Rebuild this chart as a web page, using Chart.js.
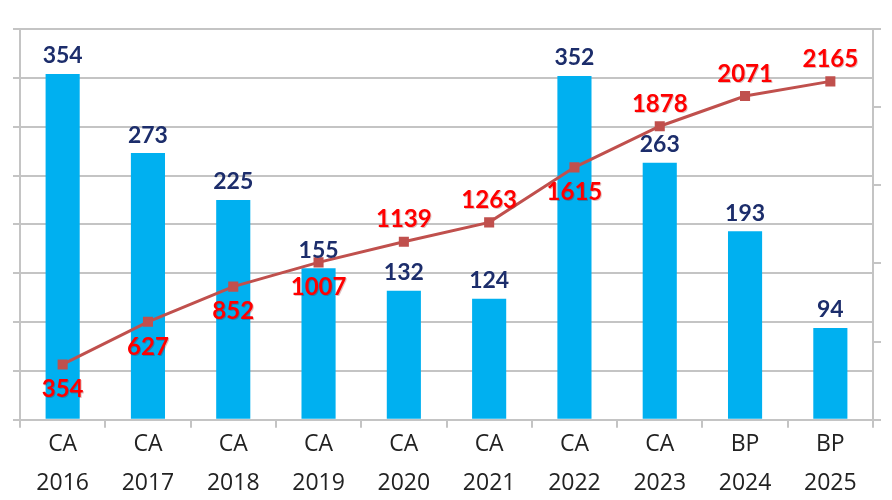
<!DOCTYPE html>
<html>
<head>
<meta charset="utf-8">
<script src="https://cdn.jsdelivr.net/npm/chart.js@4.4.1/dist/chart.umd.min.js"></script>
<style>
  html, body { margin: 0; padding: 0; background: #fff; }
  #wrap { width: 892px; height: 500px; position: relative; }
</style>
</head>
<body>
<div id="wrap"><canvas id="grafico"></canvas></div>
<script>
// datos
var categorias = [["CA", "2016"], ["CA", "2017"], ["CA", "2018"], ["CA", "2019"], ["CA", "2020"],
  ["CA", "2021"], ["CA", "2022"], ["CA", "2023"], ["BP", "2024"], ["BP", "2025"]];
var valoresAnuales = [354, 273, 225, 155, 132, 124, 352, 263, 193, 94];
var acumulado = [354, 627, 852, 1007, 1139, 1263, 1615, 1878, 2071, 2165];
// donde va la etiqueta roja: arriba o abajo del punto
var posEtiquetaLinea = ["abajo", "abajo", "abajo", "abajo", "arriba", "arriba", "abajo", "arriba", "arriba", "arriba"];

var gris = "#c4c4c4";

// plugin sencillo para escribir los valores
var etiquetas = {
  id: "etiquetas",
  afterDatasetsDraw: function (chart) {
    var ctx = chart.ctx;
    ctx.save();
    ctx.textAlign = "center";
    ctx.textBaseline = "middle";

    var barras = chart.getDatasetMeta(1).data;
    ctx.font = "bold 23px Lato";
    ctx.fillStyle = "#1c2d6b";
    barras.forEach(function (b, i) {
      ctx.fillText(valoresAnuales[i], b.x, b.y - 18);
    });

    var puntos = chart.getDatasetMeta(0).data;
    ctx.font = "bold 24px Lato";
    puntos.forEach(function (p, i) {
      var dy = posEtiquetaLinea[i] === "arriba" ? -22 : 25;
      ctx.fillStyle = "rgba(120,0,0,0.25)";
      ctx.fillText(acumulado[i], p.x + 1, p.y + dy + 1);
      ctx.fillStyle = "#ff0000";
      ctx.fillText(acumulado[i], p.x, p.y + dy);
    });
    ctx.restore();
  },
};

var ctx = document.getElementById("grafico").getContext("2d");
new Chart(ctx, {
  data: {
    labels: categorias,
    datasets: [
      {
        type: "line",
        label: "Acumulado",
        data: acumulado,
        yAxisID: "yDer",
        borderColor: "#c0504d",
        backgroundColor: "#c0504d",
        borderWidth: 3,
        pointStyle: "rect",
        pointRadius: 5,
        pointHoverRadius: 5,
        tension: 0,
        order: 0,
      },
      {
        type: "bar",
        label: "Anual",
        data: valoresAnuales,
        yAxisID: "yIzq",
        backgroundColor: "#00b0f0",
        barPercentage: 0.4,
        categoryPercentage: 1,
        order: 1,
      },
    ],
  },
  options: {
    responsive: true,
    maintainAspectRatio: false,
    animation: false,
    layout: { padding: { left: 13, right: 11, top: 29, bottom: 0 } },
    plugins: {
      legend: { display: false },
      tooltip: { enabled: false },
    },
    scales: {
      x: {
        offset: true,
        grid: {
          display: true,
          offset: true,
          drawOnChartArea: false,
          drawTicks: true,
          tickLength: 8,
          color: gris,
          lineWidth: 2,
        },
        border: { color: gris, width: 2 },
        ticks: {
          color: "#222",
          font: { family: "Open Sans", size: 23, lineHeight: 1.7 },
          padding: -3,
          maxRotation: 0,
          autoSkip: false,
        },
      },
      yIzq: {
        position: "left",
        min: 0,
        max: 400,
        ticks: { stepSize: 50, display: false },
        grid: { color: gris, lineWidth: 2, tickLength: 7 },
        border: { color: gris, width: 2 },
      },
      yDer: {
        position: "right",
        min: 0,
        max: 2500,
        ticks: { stepSize: 500, display: false },
        grid: { drawOnChartArea: false, color: gris, lineWidth: 2, tickLength: 8 },
        border: { color: gris, width: 2 },
      },
    },
  },
  plugins: [etiquetas],
});
</script>
</body>
</html>
